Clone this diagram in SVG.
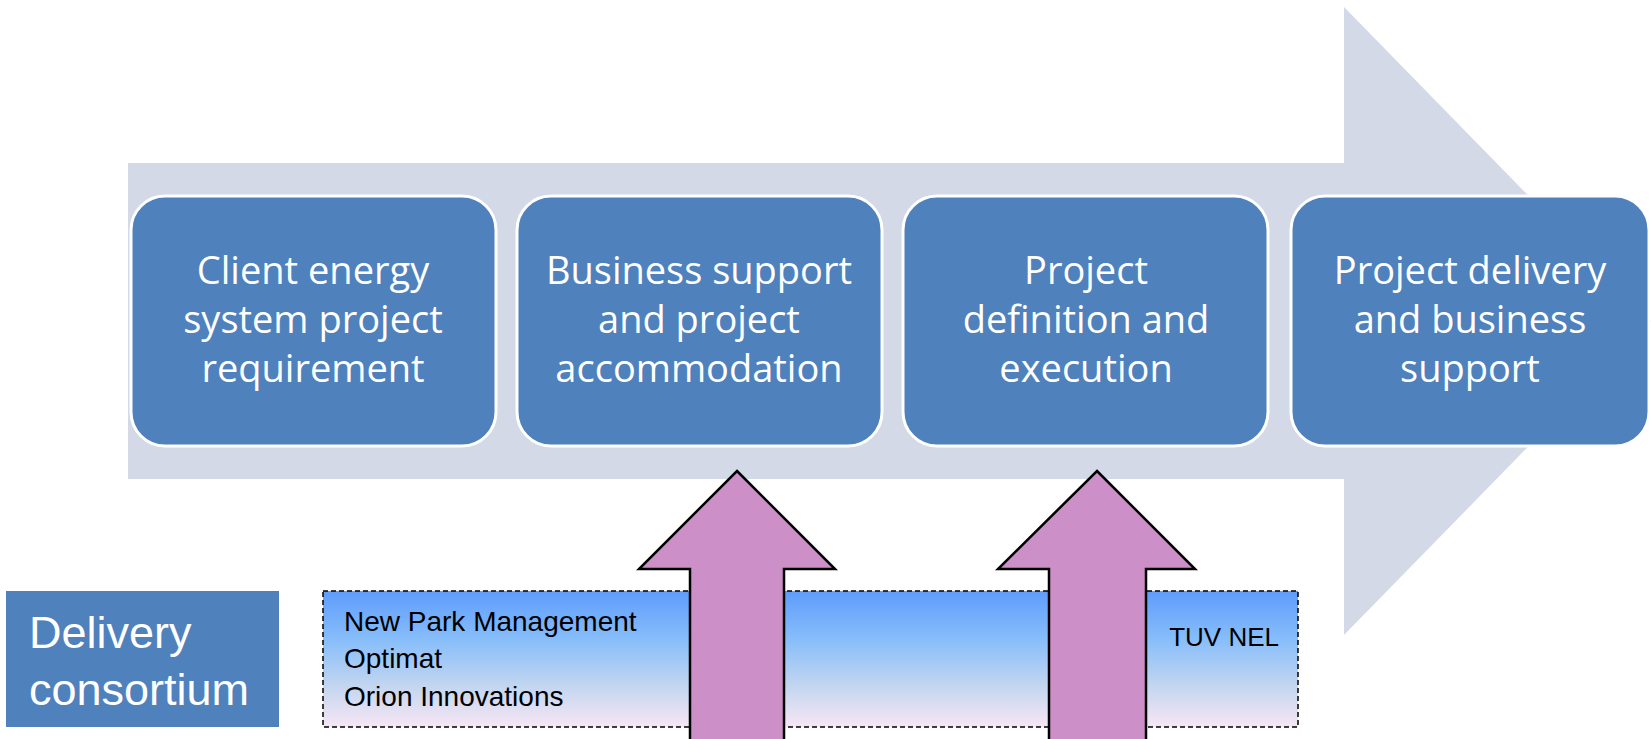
<svg xmlns="http://www.w3.org/2000/svg" width="1651" height="739" viewBox="0 0 1651 739">
<style>
.step{fill:#4F81BD;stroke:#FFFFFF;stroke-width:3}
.stxt{font-family:"Open Sans","Liberation Sans",sans-serif;font-size:38px;fill:#FFFFFF;text-anchor:middle}
.ctxt{font-family:"Liberation Sans",Arial,sans-serif;font-size:28px;fill:#000000}
.up{fill:#CC8FC7;stroke:#000000;stroke-width:2.5;stroke-linejoin:miter}
</style>
<defs>
<linearGradient id="bandGrad" x1="0" y1="0" x2="0" y2="1">
<stop offset="0" stop-color="#5E9CFC"/>
<stop offset="0.35" stop-color="#86BDFA"/>
<stop offset="0.7" stop-color="#C3D6F0"/>
<stop offset="1" stop-color="#F7E6F4"/>
</linearGradient>
</defs>
<rect width="1651" height="739" fill="#FFFFFF"/>
<g id="process-arrow">
<polygon points="128,163 1344,163 1344,7 1651,321 1344,635 1344,479 128,479" fill="#D3D9E7"/>
</g>
<g id="step1">
<rect class="step" x="131" y="196" width="365" height="250" rx="34"/>
<text class="stxt" x="313" y="284">Client energy</text>
<text class="stxt" x="313" y="333">system project</text>
<text class="stxt" x="313" y="382">requirement</text>
</g>
<g id="step2">
<rect class="step" x="517" y="196" width="365" height="250" rx="34"/>
<text class="stxt" x="699" y="284">Business support</text>
<text class="stxt" x="699" y="333">and project</text>
<text class="stxt" x="699" y="382">accommodation</text>
</g>
<g id="step3">
<rect class="step" x="903" y="196" width="365" height="250" rx="34"/>
<text class="stxt" x="1086" y="284">Project</text>
<text class="stxt" x="1086" y="333">definition and</text>
<text class="stxt" x="1086" y="382">execution</text>
</g>
<g id="step4">
<rect class="step" x="1291" y="196" width="358" height="250" rx="34"/>
<text class="stxt" x="1470" y="284">Project delivery</text>
<text class="stxt" x="1470" y="333">and business</text>
<text class="stxt" x="1470" y="382">support</text>
</g>
<g id="delivery-consortium">
<rect x="6" y="591" width="273" height="136" fill="#4F81BD"/>
<text x="29" y="648" font-family="Liberation Sans, Arial, sans-serif" font-size="45" fill="#FFFFFF">Delivery</text>
<text x="29" y="705" font-family="Liberation Sans, Arial, sans-serif" font-size="45" fill="#FFFFFF">consortium</text>
</g>
<g id="partners">
<rect x="323" y="591" width="975" height="136" fill="url(#bandGrad)" stroke="#000000" stroke-width="1.5" stroke-dasharray="5,3"/>
<text class="ctxt" x="344" y="631">New Park Management</text>
<text class="ctxt" x="344" y="668">Optimat</text>
<text class="ctxt" x="344" y="706">Orion Innovations</text>
<text class="ctxt" x="1279" y="646" style="font-size:26px;text-anchor:end">TUV NEL</text>
</g>
<g id="connectors">
<polygon class="up" points="737,471 835,569 784,569 784,745 690,745 690,569 639,569"/>
<polygon class="up" points="1097,471 1195,569 1146,569 1146,745 1049,745 1049,569 998,569"/>
</g>
</svg>
